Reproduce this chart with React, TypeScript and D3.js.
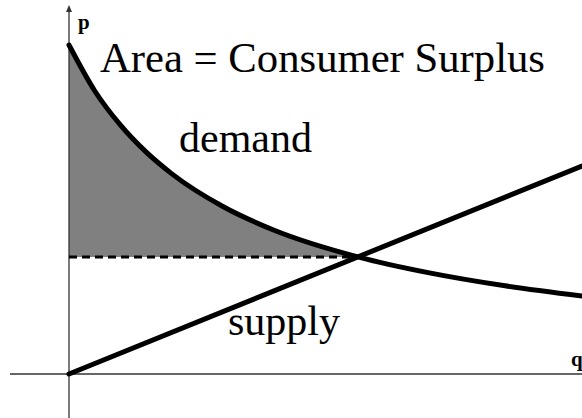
import React from "react";
import * as d3 from "d3";

// Demand curve points (q, p) in chart units
const demandQ = [0, 5, 10, 15, 20, 30, 40, 56.3, 70, 85, 100];
const demandP = [100, 86.1, 75.7, 67.5, 60.9, 50.9, 43.7, 35.6, 30.8, 26.8, 23.7];
// Supply line endpoints
const supplyQ = [0, 100];
const supplyP = [0, 63.2];
// Equilibrium
const eqQ = 56.3;
const eqP = 35.6;

const labels = {
  title: "Area = Consumer Surplus",
  demand: "demand",
  supply: "supply",
  p: "p",
  q: "q",
};

const W = 582;
const H = 418;

export default function App() {
  const x = d3.scaleLinear().domain([0, 100]).range([69, 582]);
  const y = d3.scaleLinear().domain([0, 100]).range([374, 45]);

  const demand = demandQ.map((q, i) => ({ q, p: demandP[i] }));
  const supply = supplyQ.map((q, i) => ({ q, p: supplyP[i] }));

  const line = d3
    .line<{ q: number; p: number }>()
    .x((d) => x(d.q))
    .y((d) => y(d.p))
    .curve(d3.curveMonotoneX);

  const shaded = demand.filter((d) => d.q <= eqQ);
  const area = d3
    .area<{ q: number; p: number }>()
    .x((d) => x(d.q))
    .y0(y(eqP))
    .y1((d) => y(d.p))
    .curve(d3.curveMonotoneX);

  const font = "'Liberation Serif', 'Times New Roman', serif";

  return (
    <svg
      width={W}
      height={H}
      style={{ position: "absolute", left: 0, top: 0, background: "#fff" }}
    >
      <path d={area(shaded) || ""} fill="#808080" />
      {/* axes */}
      <line x1={x(0)} x2={x(0)} y1={418} y2={9} stroke="#333" strokeWidth={1.3} />
      <path d={`M${x(0) - 3},${12} L${x(0)},${5} L${x(0) + 3},${12} Z`} fill="#333" />
      <line x1={10} x2={582} y1={y(0)} y2={y(0)} stroke="#333" strokeWidth={1.3} />
      {/* dashed price line */}
      <line
        x1={x(0)}
        x2={x(eqQ)}
        y1={y(eqP)}
        y2={y(eqP)}
        stroke="#000"
        strokeWidth={3}
        strokeDasharray="8 5"
      />
      <path d={line(demand) || ""} fill="none" stroke="#000" strokeWidth={5} strokeLinecap="round" />
      <path d={line(supply) || ""} fill="none" stroke="#000" strokeWidth={5} strokeLinecap="round" />
      <text x={78} y={29} fontFamily={font} fontWeight="bold" fontSize={21}>
        {labels.p}
      </text>
      <text x={571} y={366} fontFamily={font} fontWeight="bold" fontSize={21}>
        {labels.q}
      </text>
      <text x={100} y={72} fontFamily={font} fontSize={42.7}>
        {labels.title}
      </text>
      <text x={179} y={152} fontFamily={font} fontSize={42}>
        {labels.demand}
      </text>
      <text x={228} y={335} fontFamily={font} fontSize={42}>
        {labels.supply}
      </text>
    </svg>
  );
}
